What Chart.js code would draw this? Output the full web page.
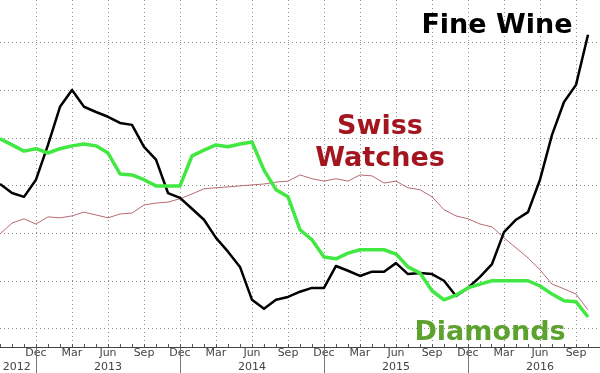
<!DOCTYPE html>
<html>
<head>
<meta charset="utf-8">
<script src="https://cdn.jsdelivr.net/npm/chart.js@4"></script>
<style>
  html, body { margin: 0; padding: 0; background: #fff; }
  #wrap { width: 600px; height: 373px; }
</style>
</head>
<body>
<div id="wrap"><canvas id="chart"></canvas></div>
<script>
// monthly points, index 0 = Sep 2012, last = Oct 2016
const startYear = 2012;
const startMonth = 8; // Sep (0 = Jan)
const lastIndex = 50; // axis runs to Nov 2016
const monthNames = ["Jan","Feb","Mar","Apr","May","Jun","Jul","Aug","Sep","Oct","Nov","Dec"];
const quarterMonths = ["Mar", "Jun", "Sep", "Dec"];
const firstYearLabelAt = 1.4; // 2012 sits in the visible part of that year

// index levels (no y labels on the original, one gridline = 1 unit)
const fineWine = [
  3.04, 2.85, 2.77, 3.13, 3.86, 4.66, 5.01, 4.66, 4.55, 4.45,
  4.32, 4.28, 3.82, 3.55, 2.85, 2.75, 2.52, 2.29, 1.91, 1.62,
  1.30, 0.61, 0.42, 0.61, 0.67, 0.78, 0.86, 0.86, 1.32, 1.22,
  1.11, 1.20, 1.20, 1.38, 1.15, 1.17, 1.15, 1.01, 0.69, 0.86,
  1.09, 1.36, 2.03, 2.29, 2.45, 3.13, 4.07, 4.76, 5.12, 6.17
];
const diamonds = [
  3.99, 3.86, 3.73, 3.78, 3.69, 3.78, 3.84, 3.88, 3.84, 3.69,
  3.25, 3.23, 3.13, 3.00, 3.00, 3.00, 3.63, 3.75, 3.86, 3.82,
  3.88, 3.92, 3.33, 2.92, 2.77, 2.08, 1.87, 1.51, 1.47, 1.59,
  1.66, 1.66, 1.66, 1.57, 1.30, 1.17, 0.80, 0.61, 0.71, 0.86,
  0.94, 1.01, 1.01, 1.01, 1.01, 0.90, 0.73, 0.59, 0.57, 0.25
];
const swissWatches = [
  1.99, 2.22, 2.31, 2.20, 2.35, 2.33, 2.37, 2.45, 2.39, 2.33,
  2.41, 2.43, 2.60, 2.64, 2.66, 2.73, 2.83, 2.94, 2.96, 2.98,
  3.00, 3.02, 3.04, 3.08, 3.10, 3.23, 3.15, 3.10, 3.15, 3.10,
  3.23, 3.21, 3.06, 3.10, 2.96, 2.92, 2.77, 2.50, 2.37, 2.31,
  2.20, 2.14, 1.91, 1.70, 1.49, 1.24, 0.94, 0.84, 0.73, 0.40
];
const yGridLines = [0, 1, 2, 3, 4, 5, 6];

const monthOf = m => monthNames[(startMonth + m) % 12];
const yearOf = m => startYear + Math.floor((startMonth + m) / 12);
const toPoints = arr => arr.map((v, i) => ({ x: i, y: v }));
const isWhole = v => Number.isInteger(v);
const isQuarterLine = v => isWhole(v) && v > 0 && v < lastIndex && quarterMonths.includes(monthOf(v));

// series names drawn straight on the plot
const seriesLabels = [
  { lines: ["Fine Wine"], x: 497, y: 33, color: "#000000" },
  { lines: ["Swiss", "Watches"], x: 380, y: 134, color: "#a3161f" },
  { lines: ["Diamonds"], x: 490, y: 340, color: "#5da22f" }
];

const annotations = {
  id: "annotations",
  afterDraw(chart) {
    const ctx = chart.ctx;
    const xs = chart.scales.x;
    ctx.save();
    // year breaks below the axis
    ctx.strokeStyle = "#777";
    ctx.lineWidth = 1;
    for (let m = 0; m <= lastIndex; m++) {
      if (monthOf(m) === "Dec") {
        const px = Math.round(xs.getPixelForValue(m)) + 0.5;
        ctx.beginPath();
        ctx.moveTo(px, xs.top + 1);
        ctx.lineTo(px, xs.bottom);
        ctx.stroke();
      }
    }
    ctx.font = "bold 27px 'DejaVu Sans'";
    ctx.textAlign = "center";
    ctx.textBaseline = "alphabetic";
    seriesLabels.forEach(l => {
      ctx.fillStyle = l.color;
      l.lines.forEach((t, i) => ctx.fillText(t, l.x, l.y + i * 32));
    });
    ctx.restore();
  }
};

new Chart(document.getElementById("chart"), {
  type: "line",
  data: {
    datasets: [
      { label: "Diamonds", data: toPoints(diamonds), borderColor: "#42e842", borderWidth: 3.5 },
      { label: "Fine Wine", data: toPoints(fineWine), borderColor: "#000000", borderWidth: 2.5 },
      { label: "Swiss Watches", data: toPoints(swissWatches), borderColor: "#b86a70", borderWidth: 1 }
    ]
  },
  options: {
    responsive: true,
    maintainAspectRatio: false,
    animation: false,
    layout: { padding: 0 },
    elements: {
      point: { radius: 0 },
      line: { tension: 0, borderJoinStyle: "round", fill: false }
    },
    plugins: { legend: { display: false }, tooltip: { enabled: false } },
    scales: {
      x: {
        type: "linear",
        min: 0,
        max: lastIndex,
        afterBuildTicks: axis => {
          const t = [];
          for (let m = 0; m <= lastIndex; m++) {
            t.push({ value: m });
            if (m === 1) t.push({ value: firstYearLabelAt });
          }
          axis.ticks = t;
        },
        afterFit: scale => {
          scale.height = 26;
          scale.paddingLeft = 0;
          scale.paddingRight = 0;
        },
        border: { display: true, color: "#444", width: 1, dash: [1, 3] },
        grid: {
          color: c => isQuarterLine(c.tick.value) ? "#8c8c8c" : "rgba(0,0,0,0)",
          tickColor: c => isWhole(c.tick.value) ? "#555" : "rgba(0,0,0,0)",
          tickLength: -3,
          lineWidth: 1
        },
        ticks: {
          autoSkip: false,
          maxRotation: 0,
          padding: 3,
          color: "#444",
          font: { family: "'DejaVu Sans'", size: 11, lineHeight: 1.2 },
          callback: value => {
            if (value === firstYearLabelAt) return ["", String(yearOf(1))];
            if (!isQuarterLine(value)) return "";
            const name = monthOf(value);
            return name === "Jun" ? [name, String(yearOf(value))] : name;
          }
        }
      },
      y: {
        type: "linear",
        min: -0.38,
        max: 6.9,
        afterBuildTicks: axis => { axis.ticks = yGridLines.map(v => ({ value: v })); },
        afterFit: scale => { scale.width = 0; },
        border: { display: false, dash: [1, 3] },
        grid: { color: "#8c8c8c", drawTicks: false, lineWidth: 1 },
        ticks: { display: false }
      }
    }
  },
  plugins: [annotations]
});
</script>
</body>
</html>
